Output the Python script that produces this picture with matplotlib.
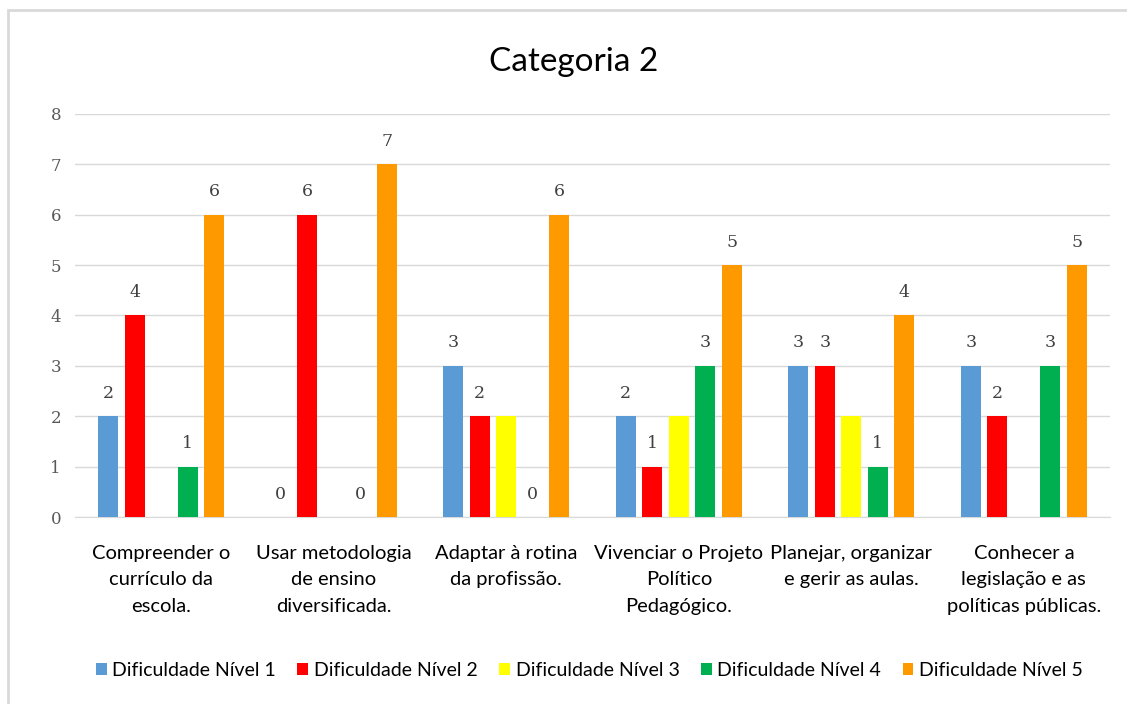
import numpy as np
import matplotlib
matplotlib.use("Agg")
import matplotlib.pyplot as plt
from matplotlib.patches import Rectangle

categorias = [
    "Compreender o\ncurrículo da\nescola.",
    "Usar metodologia\nde ensino\ndiversificada.",
    "Adaptar à rotina\nda profissão.",
    "Vivenciar o Projeto\nPolítico\nPedagógico.",
    "Planejar, organizar\ne gerir as aulas.",
    "Conhecer a\nlegislação e as\npolíticas públicas.",
]
series = ["Dificuldade Nível 1", "Dificuldade Nível 2", "Dificuldade Nível 3",
          "Dificuldade Nível 4", "Dificuldade Nível 5"]
# None = sem resposta (barra não existe)
nivel1 = [2, 0, 3, 2, 3, 3]
nivel2 = [4, 6, 2, 1, 3, 2]
nivel3 = [None, None, 2, 2, 2, None]
nivel4 = [1, 0, 0, 3, 1, 3]
nivel5 = [6, 7, 6, 5, 4, 5]
cores = ["#5B9BD5", "#FF0000", "#FFFF00", "#00B050", "#FF9900"]
yticks = [0, 1, 2, 3, 4, 5, 6, 7, 8]

valores = [nivel1, nivel2, nivel3, nivel4, nivel5]

fig = plt.figure(figsize=(11.27, 7.04), dpi=100)
ax = fig.add_axes([0.0665, 0.2656, 0.9185, 0.5725])

x = np.arange(len(categorias))
passo = 0.1536
largura = 0.116

for i, (nome, vals, cor) in enumerate(zip(series, valores, cores)):
    pos = x + (i - 2) * passo
    v = np.array([np.nan if a is None else a for a in vals], dtype=float)
    ok = ~np.isnan(v)
    barras = ax.bar(pos[ok], v[ok], width=largura, color=cor, label=nome, zorder=3)
    # rótulos do nível 3 ficam brancos (invisíveis no fundo)
    cor_txt = "white" if i == 2 else "#404040"
    for b, val in zip(barras, v[ok]):
        ax.annotate(f"{int(val)}", (b.get_x() + b.get_width() / 2, val),
                    xytext=(0, 16.5), textcoords="offset points",
                    ha="center", va="center", fontsize=12.5,
                    family="DejaVu Serif", color=cor_txt, zorder=4)

ax.set_xlim(-0.5, len(categorias) - 0.5)
ax.set_ylim(0, 8)
ax.set_yticks(yticks)
ax.set_yticklabels([str(t) for t in yticks], family="DejaVu Serif",
                   fontsize=12, color="#595959")
ax.set_xticks(x)
ax.set_xticklabels(categorias, family="Lato", fontsize=14.5, color="black",
                   linespacing=1.68, va="top")
ax.tick_params(axis="both", length=0)
ax.tick_params(axis="x", pad=20)
ax.tick_params(axis="y", pad=10)
ax.grid(axis="y", color="#D9D9D9", linewidth=1, zorder=0)
for s in ["top", "right", "left"]:
    ax.spines[s].set_visible(False)
ax.spines["bottom"].set_color("#D9D9D9")

fig.text(0.509, 0.912, "Categoria 2", ha="center", va="center",
         family="Lato", fontsize=24, color="black")

leg = fig.legend(loc="center", bbox_to_anchor=(0.523, 0.048), ncol=5,
                 frameon=False, prop={"family": "Lato", "size": 14},
                 handlelength=0.55, handleheight=0.55, handletextpad=0.3,
                 columnspacing=1.1)

# moldura do gráfico
fig.patches.append(Rectangle((8 / 1127, -0.1), 1.2, 1 - 10 / 704 + 0.1,
                             transform=fig.transFigure, fill=False,
                             edgecolor="#D9D9D9", linewidth=2))

fig.savefig("out.png", dpi=100)
